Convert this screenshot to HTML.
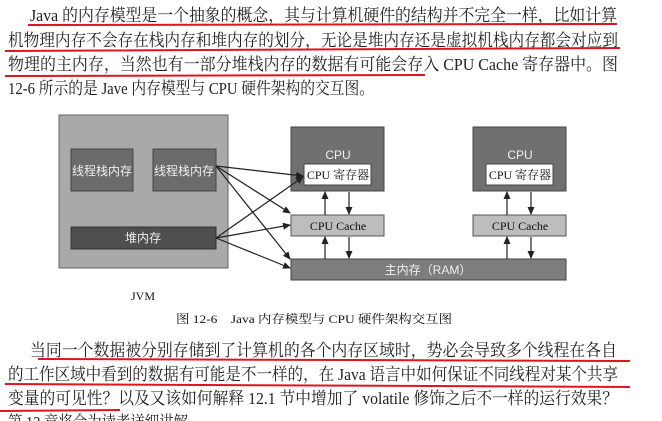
<!DOCTYPE html>
<html><head><meta charset="utf-8"><style>
html,body{margin:0;padding:0;background:#fff;width:662px;height:421px;overflow:hidden}
svg{display:block}
.t{font-family:"Liberation Serif","Noto Serif CJK SC",serif;font-size:17px;fill:#222}
.s{font-family:"Liberation Sans","Noto Sans CJK SC",sans-serif;fill:#eee;font-size:12px}
.r{font-family:"Liberation Serif","Noto Serif CJK SC",serif;fill:#111;font-size:12px}
</style></head><body>
<svg width="662" height="421" viewBox="0 0 662 421">
<defs><marker id="a" markerWidth="8" markerHeight="8" refX="7" refY="4" orient="auto" markerUnits="userSpaceOnUse"><path d="M0,0.5 L8,4 L0,7.5 z" fill="#222"/></marker></defs>
<text class="t" x="30" y="21" textLength="587" lengthAdjust="spacingAndGlyphs">Java 的内存模型是一个抽象的概念，其与计算机硬件的结构并不完全一样，比如计算</text>
<text class="t" x="8" y="46" textLength="610" lengthAdjust="spacingAndGlyphs">机物理内存不会存在栈内存和堆内存的划分，无论是堆内存还是虚拟机栈内存都会对应到</text>
<text class="t" x="8" y="70" textLength="610" lengthAdjust="spacingAndGlyphs">物理的主内存，当然也有一部分堆栈内存的数据有可能会存入 CPU Cache 寄存器中。图</text>
<text class="t" x="8" y="94" textLength="366" lengthAdjust="spacingAndGlyphs">12-6 所示的是 Jave 内存模型与 CPU 硬件架构的交互图。</text>
<path d="M28 25 L617 24 M5 51 L620 48 M5 76 L425 75" stroke="#e0141e" stroke-width="2" fill="none"/>
<rect x="59" y="115" width="169" height="153" fill="#a9a9a9" stroke="#666"/>
<rect x="71" y="149" width="62" height="42" fill="#6b6b6b" stroke="#444"/>
<rect x="153" y="149" width="63" height="42" fill="#6b6b6b" stroke="#444"/>
<rect x="71" y="227" width="145" height="22" fill="#4f4f4f" stroke="#333"/>
<text class="s" x="102" y="175" text-anchor="middle">线程栈内存</text>
<text class="s" x="184" y="175" text-anchor="middle">线程栈内存</text>
<text class="s" x="143" y="242" text-anchor="middle">堆内存</text>
<text class="r" x="143" y="300" text-anchor="middle" font-size="13">JVM</text>
<rect x="291" y="127" width="93" height="64" fill="#707070" stroke="#444"/>
<rect x="304" y="164" width="67" height="21" fill="#fff" stroke="#444"/>
<text class="s" x="338" y="159" text-anchor="middle">CPU</text>
<text class="r" x="338" y="179" text-anchor="middle">CPU 寄存器</text>
<rect x="473" y="127" width="93" height="64" fill="#707070" stroke="#444"/>
<rect x="486" y="164" width="67" height="21" fill="#fff" stroke="#444"/>
<text class="s" x="520" y="159" text-anchor="middle">CPU</text>
<text class="r" x="520" y="179" text-anchor="middle">CPU 寄存器</text>
<rect x="291" y="215" width="93" height="21" fill="#bdbdbd" stroke="#555"/>
<text class="r" x="338" y="230" text-anchor="middle">CPU Cache</text>
<rect x="473" y="215" width="93" height="21" fill="#bdbdbd" stroke="#555"/>
<text class="r" x="520" y="230" text-anchor="middle">CPU Cache</text>
<rect x="291" y="259" width="275" height="21" fill="#7d7d7d" stroke="#444"/>
<text class="s" x="428" y="274" text-anchor="middle">主内存（RAM）</text>
<g stroke="#222" stroke-width="1.2" fill="none" marker-end="url(#a)">
<line x1="325" y1="215" x2="325" y2="192"/><line x1="349" y1="192" x2="349" y2="214"/>
<line x1="325" y1="259" x2="325" y2="237"/><line x1="349" y1="237" x2="349" y2="258"/>
<line x1="507" y1="215" x2="507" y2="192"/><line x1="531" y1="192" x2="531" y2="214"/>
<line x1="507" y1="259" x2="507" y2="237"/><line x1="531" y1="237" x2="531" y2="258"/>
<line x1="216" y1="166" x2="303" y2="176"/><line x1="216" y1="166" x2="290" y2="213"/><line x1="216" y1="166" x2="290" y2="259"/>
<line x1="216" y1="238" x2="303" y2="177"/><line x1="216" y1="238" x2="290" y2="225"/><line x1="216" y1="238" x2="290" y2="268"/>
</g>
<text class="r" x="176" y="323" font-size="13" textLength="276" lengthAdjust="spacingAndGlyphs">图 12-6　Java 内存模型与 CPU 硬件架构交互图</text>
<text class="t" x="30" y="356" textLength="587" lengthAdjust="spacingAndGlyphs">当同一个数据被分别存储到了计算机的各个内存区域时，势必会导致多个线程在各自</text>
<text class="t" x="8" y="380" textLength="610" lengthAdjust="spacingAndGlyphs">的工作区域中看到的数据有可能是不一样的，在 Java 语言中如何保证不同线程对某个共享</text>
<text class="t" x="8" y="404" textLength="610" lengthAdjust="spacingAndGlyphs">变量的可见性？以及又该如何解释 12.1 节中增加了 volatile 修饰之后不一样的运行效果？</text>
<text class="t" x="8" y="428" textLength="180" lengthAdjust="spacingAndGlyphs">第 12 章将会为读者详细讲解</text>
<path d="M38 359 L630 361 M5 384 L630 387 M0 411 L120 410" stroke="#e0141e" stroke-width="2" fill="none"/>
</svg>
</body></html>
